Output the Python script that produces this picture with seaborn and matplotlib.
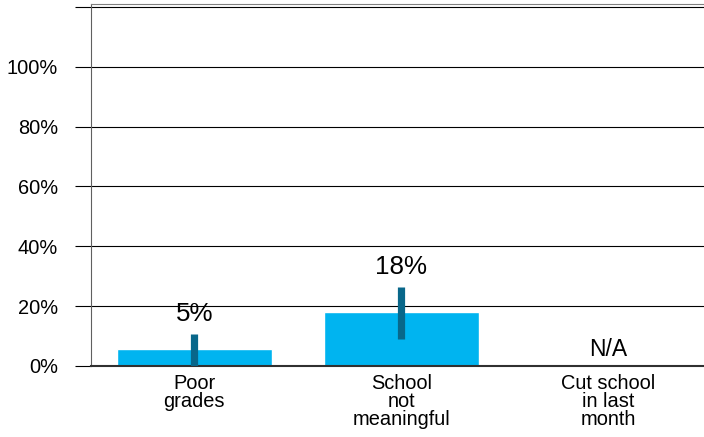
import numpy as np
import pandas as pd
import matplotlib
matplotlib.use("Agg")
import matplotlib.pyplot as plt
import seaborn as sns

# data
categories = ["Poor\ngrades", "School\nnot\nmeaningful", "Cut school\nin last\nmonth"]
values = [5.7, 18.2, np.nan]
err_low = [0.0, 9.0, np.nan]
err_high = [10.7, 26.3, np.nan]
labels = ["5%", "18%", "N/A"]
yticks = [0, 20, 40, 60, 80, 100, 120]
ytick_labels = ["0%", "20%", "40%", "60%", "80%", "100%", ""]

sns.set_style("white")
plt.rcParams["font.family"] = ["Liberation Sans", "DejaVu Sans"]
plt.rcParams["text.color"] = "black"
plt.rcParams["xtick.color"] = "black"
plt.rcParams["ytick.color"] = "black"

df = pd.DataFrame({"category": categories, "value": values})

fig = plt.figure(figsize=(7.04, 4.37), dpi=100)
ax = fig.add_axes([0.129, 0.1625, 0.882, 0.8284])

sns.barplot(data=df, x="category", y="value", order=categories,
            color="#00B4F0", saturation=1, width=0.75, errorbar=None, ax=ax)

# error bars
xs = np.arange(len(categories))
ax.vlines(xs, err_low, err_high, color="#08678A", linewidth=5.2, zorder=3)

# value labels above the error bars
for x, hi, lab in zip(xs, err_high, labels):
    if np.isnan(hi):
        ax.text(x, 5.5, lab, ha="center", va="center", fontsize=16.5)
    else:
        ax.text(x, hi + 6.8, lab, ha="center", va="center", fontsize=18.7)

ax.set_xlim(-0.5, 2.5)
ax.set_ylim(0, 121)
ax.set_yticks(yticks)
ax.set_yticklabels(ytick_labels, fontsize=14.4)
ax.set_xlabel("")
ax.set_ylabel("")
ax.tick_params(axis="x", length=0, pad=6, labelsize=14.4)
for t in ax.get_xticklabels():
    t.set_linespacing(0.93)
ax.tick_params(axis="y", length=11.5, width=0.8, color="black", pad=12, left=True)
ax.yaxis.grid(True, color="black", linewidth=0.8)
ax.set_axisbelow(True)

ax.spines["right"].set_visible(False)
ax.spines["top"].set_color("#808080")
ax.spines["left"].set_color("#606060")
ax.spines["bottom"].set_color("#303030")
ax.spines["bottom"].set_linewidth(1.5)

fig.savefig("out.png", dpi=100)
